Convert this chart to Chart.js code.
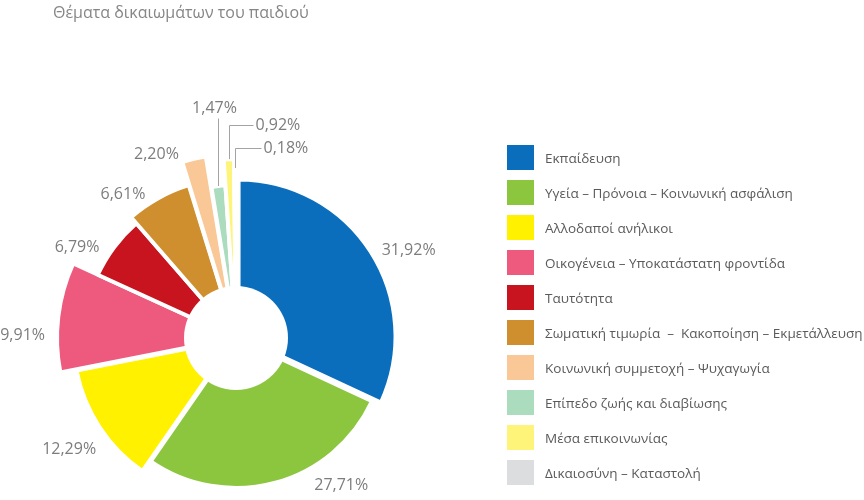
<!DOCTYPE html>
<html>
<head>
<meta charset="utf-8">
<title>Θέματα δικαιωμάτων του παιδιού</title>
<script src="https://cdn.jsdelivr.net/npm/chart.js@4/dist/chart.umd.min.js"></script>
<style>
  html, body { margin: 0; background: #fff; }
  #wrap { position: relative; width: 864px; height: 500px; }
  #heading {
    position: absolute; left: 53px; top: 1px;
    font: 16px "Open Sans", sans-serif; color: #868686;
  }
  #legend {
    position: absolute; left: 507px; top: 145px;
    margin: 0; padding: 0; list-style: none;
    font: 13.5px "Open Sans", sans-serif; color: #5a5a5a;
  }
  #legend li { display: flex; align-items: center; height: 25px; margin-bottom: 10px; white-space: pre; }
  #legend .swatch { width: 27px; height: 25px; margin-right: 11px; flex: none; }
</style>
</head>
<body>
<div id="wrap">
  <canvas id="rights"></canvas>
  <div id="heading">Θέματα δικαιωμάτων του παιδιού</div>
  <ul id="legend"></ul>
</div>
<script>
const topics = [
  'Εκπαίδευση',
  'Υγεία – Πρόνοια – Κοινωνική ασφάλιση',
  'Αλλοδαποί ανήλικοι',
  'Οικογένεια – Υποκατάστατη φροντίδα',
  'Ταυτότητα',
  'Σωματική τιμωρία  –  Κακοποίηση – Εκμετάλλευση',
  'Κοινωνική συμμετοχή – Ψυχαγωγία',
  'Επίπεδο ζωής και διαβίωσης',
  'Μέσα επικοινωνίας',
  'Δικαιοσύνη – Καταστολή'
]
const shares = [31.92, 27.71, 12.29, 9.91, 6.79, 6.61, 2.20, 1.47, 0.92, 0.18]
const colours = ['#0a6ebd', '#8cc63f', '#fff100', '#ee5a7e', '#c8141e',
                 '#cf8f2e', '#f9c896', '#abdcbe', '#fff47a', '#dcddde']

// look of the pie: every slice has its own reach, a few are pulled out
const sliceRadius = [157, 150, 160, 179, 152, 160, 181, 153, 179, 170]
const sliceShift = [3, 0, 3, 0, 0, 0, 3, 0, 0, 0]
const holeRadius = 52
// label placement
const labelTurn = [3, -19, -3, -6, -5, -8, -10, 0, 0, 0]
const labelGap = [15, 22, 22, 12, 16, 14, 9, 0, 0, 0]
const calloutLift = [0, 0, 0, 0, 0, 0, 0, 220, 213, 190]
const calloutRun = [0, 0, 0, 0, 0, 0, 0, 0, 24, 26]

const fmt = (v) => v.toFixed(2).replace('.', ',') + '%'

// Chart.js draws the offset; here each arc gets its own outer radius
const sculpt = {
  id: 'sculpt',
  afterDatasetUpdate(chart, args) {
    args.meta.data.forEach((arc, i) => {
      const fix = 1 - Math.sin(Math.min(Math.PI, arc.circumference))
      arc.outerRadius = sliceRadius[i] - sliceShift[i] * fix
    })
  }
}

const sliceLabels = {
  id: 'sliceLabels',
  afterDatasetsDraw(chart) {
    const ctx = chart.ctx
    const arcs = chart.getDatasetMeta(0).data
    const cx = arcs[0].x
    const cy = arcs[0].y
    ctx.save()
    ctx.fillStyle = '#fff'
    ctx.beginPath()
    ctx.arc(cx, cy, holeRadius, 0, Math.PI * 2)
    ctx.fill()

    ctx.font = '16px "Open Sans", sans-serif'
    ctx.fillStyle = '#7d7d7d'
    ctx.strokeStyle = '#a3a3a3'
    ctx.lineWidth = 1
    ctx.textBaseline = 'middle'
    arcs.forEach((arc, i) => {
      const text = fmt(shares[i])
      const mid = (arc.startAngle + arc.endAngle) / 2
      const reach = sliceRadius[i] + sliceShift[i]
      if (calloutLift[i]) {
        const x0 = Math.round(cx + Math.cos(mid) * reach) + 0.5
        const y0 = cy + Math.sin(mid) * reach
        const y1 = Math.round(cy - calloutLift[i]) + 0.5
        ctx.beginPath()
        ctx.moveTo(x0, y0)
        ctx.lineTo(x0, y1)
        if (calloutRun[i]) {
          ctx.lineTo(x0 + calloutRun[i], y1)
          ctx.stroke()
          ctx.textAlign = 'left'
          ctx.fillText(text, x0 + calloutRun[i] + 2, y1)
        } else {
          ctx.stroke()
          ctx.textAlign = 'center'
          ctx.fillText(text, x0 - 4, y1 - 10)
        }
        return
      }
      const a = mid + labelTurn[i] * Math.PI / 180
      const d = reach + labelGap[i]
      const w = ctx.measureText(text).width
      const cos = Math.cos(a)
      const sin = Math.sin(a)
      ctx.textAlign = 'center'
      ctx.fillText(text, cx + cos * d + cos * Math.abs(cos) * w / 2, cy + sin * d + sin * Math.abs(sin) * 7)
    })
    ctx.restore()
  }
}

// legend written as a list next to the canvas
const htmlLegend = {
  id: 'htmlLegend',
  afterUpdate(chart) {
    const list = document.getElementById('legend')
    list.innerHTML = ''
    const items = chart.options.plugins.legend.labels.generateLabels(chart)
    items.forEach((item) => {
      const li = document.createElement('li')
      const box = document.createElement('span')
      box.className = 'swatch'
      box.style.background = item.fillStyle
      const label = document.createElement('span')
      label.textContent = item.text
      li.append(box, label)
      list.appendChild(li)
    })
  }
}

const config = {
  type: 'pie',
  data: {
    labels: topics,
    datasets: [{
      data: shares,
      backgroundColor: colours,
      borderColor: '#fff',
      borderWidth: 4,
      offset: sliceShift.map((s) => s * 4)
    }]
  },
  options: {
    responsive: true,
    maintainAspectRatio: false,
    animation: false,
    layout: {
      padding: { top: 176, bottom: 0, left: 0, right: 392 }
    },
    plugins: {
      legend: { display: false },
      tooltip: { enabled: false }
    }
  },
  plugins: [sculpt, sliceLabels, htmlLegend]
}

new Chart(document.getElementById('rights'), config)
</script>
</body>
</html>
